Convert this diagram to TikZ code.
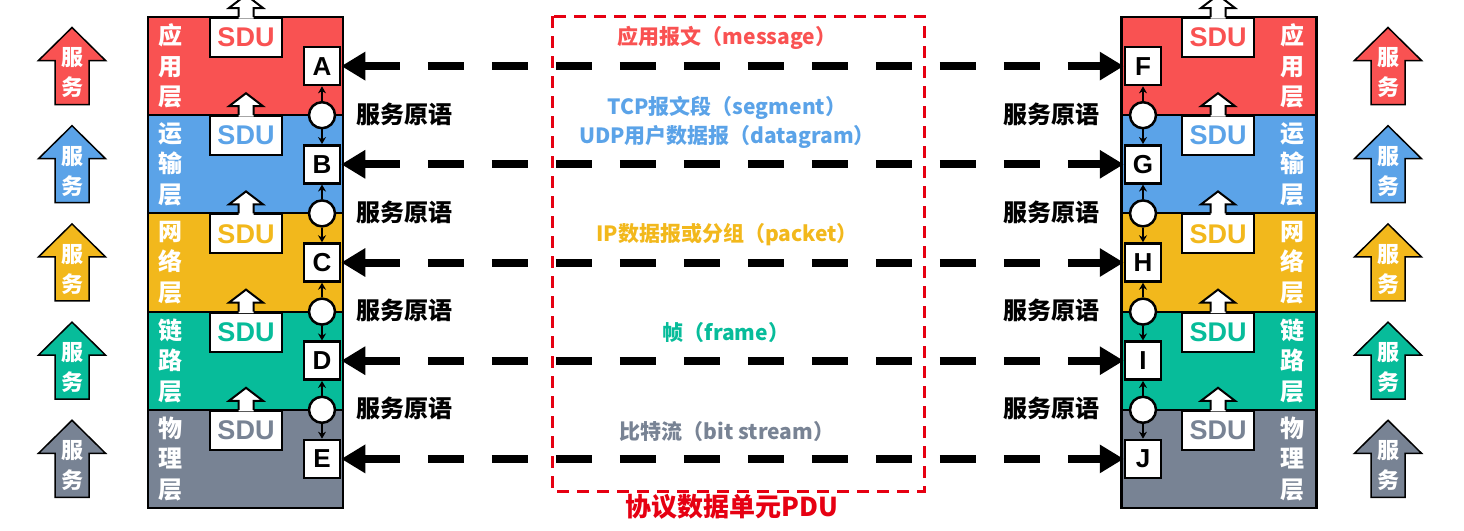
\documentclass[tikz,border=0pt]{standalone}
\usepackage{fontspec}
\setmainfont{Noto Sans CJK SC}
\newfontfamily\arial{Liberation Sans}
\usetikzlibrary{arrows.meta}
\definecolor{appred}{RGB}{249,82,82}
\definecolor{tpblue}{RGB}{91,163,232}
\definecolor{netyel}{RGB}{242,184,28}
\definecolor{lnkgrn}{RGB}{7,188,154}
\definecolor{phygry}{RGB}{120,131,148}
\definecolor{pdured}{RGB}{230,0,18}

\begin{document}
\begin{tikzpicture}[x=1pt,y=-1pt,
    layer/.style={draw,line width=2pt,minimum width=195pt,minimum height=98.2pt,inner sep=0pt},
    layername/.style={text=white,align=center,font=\bfseries\fontsize{24}{30.5}\selectfont},
    sdubox/.style={draw,fill=white,line width=2pt,anchor=north,minimum width=72pt,minimum height=39pt,inner sep=0pt,font=\arial\bfseries\fontsize{27}{27}\selectfont},
    letterbox/.style={draw,fill=white,line width=2.5pt,minimum width=36pt,minimum height=38pt,inner sep=0pt,font=\arial\bfseries\fontsize{26}{26}\selectfont},
    primnode/.style={circle,draw,fill=white,line width=2.5pt,minimum size=26pt,inner sep=0pt},
    primline/.style={line width=2pt,-{Stealth[length=7pt,width=8pt]}},
    primtext/.style={font=\bfseries\fontsize{24}{24}\selectfont},
    pduline/.style={line width=8pt,dash pattern=on 36pt off 28pt,{Triangle[length=24pt,width=27pt]}-{Triangle[length=24pt,width=27pt]}},
    pdutext/.style={font=\bfseries\fontsize{21}{29}\selectfont,align=center},
    svctext/.style={text=white,align=center,font=\bfseries\fontsize{22}{30}\selectfont}]
  \clip (0,0) rectangle (1464,530);

  % the two stacks of layers
  \foreach \i/\col in {0/appred,1/tpblue,2/netyel,3/lnkgrn,4/phygry}{
    \node[layer,fill=\col] (layL\i) at (245.5,66.1+98.2*\i) {};
    \node[layer,fill=\col] (layR\i) at (1219,66.1+98.2*\i) {};
  }
  \draw[line width=2.5pt] (148,17) rectangle (343,508);
  \draw[line width=2.5pt] (1121,17) rectangle (1316,508);

  \foreach \i/\col/\nm in {0/appred/{应\\用\\层},1/tpblue/{运\\输\\层},2/netyel/{网\\络\\层},3/lnkgrn/{链\\路\\层},4/phygry/{物\\理\\层}}{
    \pgfmathsetmacro\t{17+98.2*\i}
    \node[layername] (nmL\i) at (170,\t+49.1) {\nm};
    \node[layername] (nmR\i) at (1292,\t+49.1) {\nm};
    \foreach \x/\s in {246/L,1218/R}{
      \node[sdubox,text=\col] (sdu\s\i) at (\x,\t) {SDU};
      \fill[white] (\x-7.5,\t+1.5) -- (\x-7.5,\t-9) -- (\x-17,\t-9) -- (\x,\t-22)
        -- (\x+17,\t-9) -- (\x+7.5,\t-9) -- (\x+7.5,\t+1.5) -- cycle;
      \draw[line width=2pt] (\x-7.5,\t) -- (\x-7.5,\t-9) -- (\x-17,\t-9) -- (\x,\t-22)
        -- (\x+17,\t-9) -- (\x+7.5,\t-9) -- (\x+7.5,\t);
    }
    % service arrows
    \foreach \x/\s in {72/L,1388/R}{
      \draw[fill=\col,line width=1.5pt] (\x,\t+10.5) -- (\x+33.5,\t+43.5) -- (\x+17,\t+43.5)
        -- (\x+17,\t+87.5) -- (\x-17,\t+87.5) -- (\x-17,\t+43.5) -- (\x-33.5,\t+43.5) -- cycle;
      \node[svctext] (svc\s\i) at (\x,\t+56) {服\\务};
    }
  }

  % service access points
  \foreach \a/\b/\i in {A/F/0,B/G/1,C/H/2,D/I/3,E/J/4}{
    \node[letterbox] (\a) at (322,66.1+98.2*\i) {\a};
    \node[letterbox] (\b) at (1143,66.1+98.2*\i) {\b};
  }
  \foreach \a/\b/\i in {A/B/1,B/C/2,C/D/3,D/E/4,F/G/1,G/H/2,H/I/3,I/J/4}{
    \node[primnode] (p\a) at (\a |- 0,17+98.2*\i) {};
    \draw[primline] (p\a) -- (\a);
    \draw[primline] (p\a) -- (\b);
  }
  \foreach \i in {1,...,4}{
    \node[primtext] (primL\i) at (404,16+98.2*\i) {服务原语};
    \node[primtext] (primR\i) at (1051,16+98.2*\i) {服务原语};
  }

  % peer protocol data units
  \draw[pdured,line width=3pt,dash pattern=on 12pt off 8pt] (552,16) rectangle (924,491);
  \foreach \a/\b in {A/F,B/G,C/H,D/I,E/J}
    \draw[pduline] (\a) -- (\b);
  \node[pdutext,text=appred] (msg) at (727,38) {应用报文（message）};
  \node[pdutext,text=tpblue] (seg) at (727,122.5) {TCP报文段（segment）\\UDP用户数据报（datagram）};
  \node[pdutext,text=netyel] (pkt) at (727,235) {IP数据报或分组（packet）};
  \node[pdutext,text=lnkgrn] (frm) at (726,333) {帧（frame）};
  \node[pdutext,text=phygry] (bits) at (727,432) {比特流（bit stream）};
  \node[font=\bfseries\fontsize{26}{26}\selectfont,text=pdured] (pdu) at (732,507) {协议数据单元PDU};
\end{tikzpicture}
\end{document}
